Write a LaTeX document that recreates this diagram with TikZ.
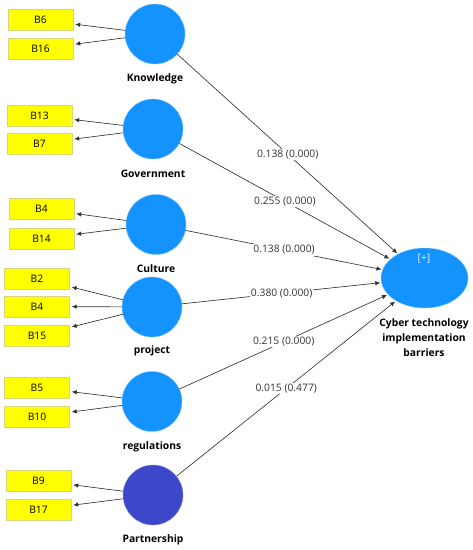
\documentclass[tikz,border=0pt]{standalone}
\usepackage{fontspec}
\setmainfont{Open Sans}
\usetikzlibrary{shapes,arrows,arrows.meta}
\definecolor{lvblue}{HTML}{1493FF}
\definecolor{lvdark}{HTML}{3D47C9}
\definecolor{itemyel}{HTML}{FFFF00}
\definecolor{itemedge}{HTML}{D6D67A}

\begin{document}
\begin{tikzpicture}
      [x=1pt,y=-1pt,line cap=round,line join=round,
     %the latent variables (circles) and their indicators (boxes)
     latent/.style={circle,fill=lvblue,draw=lvblue!55!white,minimum size=60pt,inner sep=0pt},
     item/.style={rectangle,fill=itemyel,draw=itemedge,minimum width=65pt,minimum height=21pt,
                  inner sep=0pt,font=\fontsize{10.3}{12}\selectfont},
     lvname/.style={font=\fontsize{10.3}{15}\selectfont\bfseries,align=center,inner sep=0pt},
     coef/.style={fill=white,inner sep=1pt,font=\fontsize{10.3}{12}\selectfont},
     load/.style={-{Latex[length=5pt,width=4.5pt]},color=black!80,line width=0.65pt,shorten >=2pt},
     path/.style={-{Latex[length=5pt,width=4.5pt]},color=black!80,line width=0.65pt,shorten >=1pt}]
  \useasboundingbox (0,0) rectangle (473,550);

%latent variables
  \node[latent] (know) at (155,34) {};
  \node[latent] (gov) at (153,129) {};
  \node[latent] (cult) at (156,224.5) {};
  \node[latent] (proj) at (152,307) {};
  \node[latent] (regu) at (152,401.5) {};
  \node[latent,fill=lvdark,draw=lvdark!60!white] (partn) at (153,495) {};
  \node[ellipse,fill=lvblue,draw=lvblue!55!white,minimum width=87pt,minimum height=60pt,inner sep=0pt]
     (cyber) at (424.5,278) {};
  \node[font=\fontsize{10.3}{12}\selectfont,text=white!90!lvblue] (plus) at (424,259) {[+]};

%names below the latent variables
  \node[lvname] (knowname) at (155,79) {Knowledge};
  \node[lvname] (govname) at (153,174) {Government};
  \node[lvname] (cultname) at (156,269) {Culture};
  \node[lvname] (projname) at (152,351) {project};
  \node[lvname] (reguname) at (152,447) {regulations};
  \node[lvname] (partnname) at (153,540) {Partnership};
  \node[lvname] (cybername) at (424,338) {Cyber technology\\implementation\\barriers};

%indicators
  \node[item] (b6) at (40.5,20) {B6};
  \node[item] (b16) at (40.5,48.5) {B16};
  \node[item] (b13) at (39.5,115.5) {B13};
  \node[item] (b7) at (39.5,143.5) {B7};
  \node[item] (b4c) at (41.5,209) {B4};
  \node[item] (b14) at (41.5,238.5) {B14};
  \node[item] (b2) at (37,278.5) {B2};
  \node[item] (b4p) at (37,306.5) {B4};
  \node[item] (b15) at (37,335.5) {B15};
  \node[item] (b5) at (37,387.5) {B5};
  \node[item] (b10) at (37,416.5) {B10};
  \node[item] (b9) at (38.5,480.5) {B9};
  \node[item] (b17) at (38.5,509.5) {B17};

%loadings
  \draw[load] (know) -- (b6);
  \draw[load] (know) -- (b16);
  \draw[load] (gov) -- (b13);
  \draw[load] (gov) -- (b7);
  \draw[load] (cult) -- (b4c);
  \draw[load] (cult) -- (b14);
  \draw[load] (proj) -- (b2);
  \draw[load] (proj) -- (b4p);
  \draw[load] (proj) -- (b15);
  \draw[load] (regu) -- (b5);
  \draw[load] (regu) -- (b10);
  \draw[load] (partn) -- (b9);
  \draw[load] (partn) -- (b17);

%path coefficients (p-values)
  \draw[path] (know) -- node[coef] {0.138 (0.000)} (cyber);
  \draw[path] (gov) -- node[coef] {0.255 (0.000)} (cyber);
  \draw[path] (cult) -- node[coef] {0.138 (0.000)} (cyber);
  \draw[path] (proj) -- node[coef] {0.380 (0.000)} (cyber);
  \draw[path] (regu) -- node[coef] {0.215 (0.000)} (cyber);
  \draw[path] (partn) -- node[coef] {0.015 (0.477)} (cyber);
\end{tikzpicture}
\end{document}
